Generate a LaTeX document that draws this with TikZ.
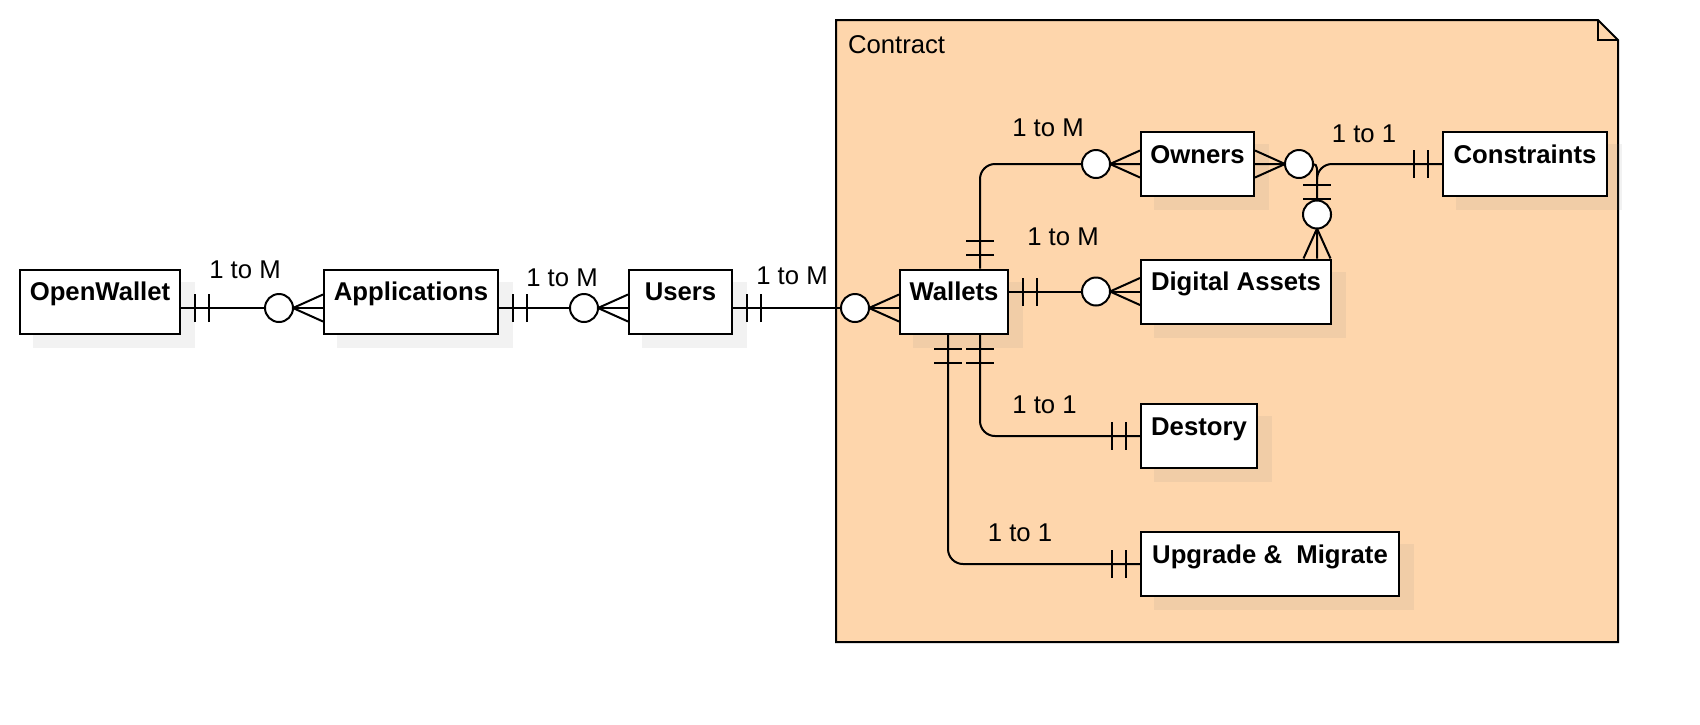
\documentclass[tikz,border=0pt]{standalone}
\usepackage{fontspec}
\setmainfont{Liberation Sans}
\usetikzlibrary{calc,backgrounds}

\tikzset{
  zmany/.pic={
    \draw (0,-13.5) -- (30,0) -- (0,13.5);
    \draw[fill=white] (44,0) circle [radius=7pt];
  },
  oneonly/.pic={
    \draw (14,-14) -- (14,14);
    \draw (28,-14) -- (28,14);
  }
}

\begin{document}
\begin{tikzpicture}[x=0.5pt,y=0.5pt,yscale=-1,xscale=1,line width=1pt,
    entity/.style={draw,fill=white,font=\bfseries\fontsize{12.85}{15}\selectfont,inner sep=0pt,minimum height=32pt,text height=15.5pt,text depth=16.5pt},
    rel/.style={font=\fontsize{12.85}{15}\selectfont,inner sep=0pt},
    boxshadow/.style={fill=gray,opacity=0.1},
    contract/.style={draw,line width=1pt,fill={rgb,255:red,254;green,214;blue,172}}]
        \useasboundingbox (0,0) rectangle (1700,724);

        % Contract frame
        \begin{scope}[on background layer]
        \draw[contract] (836,20) -- (1598,20) -- (1618,40) -- (1618,642) -- (836,642) -- cycle;
        \draw[line width=1pt] (1598,20) -- (1598,40) -- (1618,40);
        \end{scope}
        \node[rel,anchor=west] (contract) at (847,45) {Contract};

        % Text Node
        \node[entity,minimum width=80pt] (owallet) at (100,301.5) {OpenWallet};
        \node[entity,minimum width=87pt] (apps) at (411,301.5) {Applications};
        \node[entity,minimum width=51.5pt] (users) at (680.5,301.5) {Users};
        \node[entity,minimum width=54pt] (wallets) at (954,301.5) {Wallets};
        \node[entity,minimum width=56.5pt,anchor=west] (owners) at (1140,164) {Owners};
        \node[entity,minimum width=82pt] (constraints) at (1525,164) {Constraints};
        \node[entity,minimum width=95pt,anchor=west] (assets) at (1140,291.5) {Digital Assets};
        \node[entity,minimum width=58pt,anchor=west] (destory) at (1140,436) {Destory};
        \node[entity,minimum width=129pt,anchor=west] (upgrade) at (1140,564) {Upgrade \&\ \ Migrate};

        % shadows
        \begin{scope}[on background layer]
        \foreach \n in {owallet,apps,users,wallets,owners,constraints,assets,destory,upgrade}
            \fill[boxshadow] ($(\n.north west)+(14,13)$) rectangle ($(\n.south east)+(14,13)$);
        \end{scope}

        % Text Node
        \node[rel] (lowapp) at (245,270) {1 to M};
        \node[rel] (lappuser) at (562,277.5) {1 to M};
        \node[rel] (luserwal) at (792,275.5) {1 to M};
        \node[rel] (lwalown) at (1048,128) {1 to M};
        \node[rel] (lwalast) at (1063,237) {1 to M};
        \node[rel] (lcons) at (1364,133.5) {1 to 1};
        \node[rel] (lwaldes) at (1044.5,405) {1 to 1};
        \node[rel] (lwalupg) at (1020,533) {1 to 1};

        % Connection
        \draw ($(owallet.east)+(0,6.5)$) -- ($(apps.west)+(0,6.5)$);
        \pic at ($(owallet.east)+(0,6.5)$) {oneonly};
        \pic[rotate=180] at ($(apps.west)+(0,6.5)$) {zmany};

        % Connection
        \draw ($(apps.east)+(0,6.5)$) -- ($(users.west)+(0,6.5)$);
        \pic at ($(apps.east)+(0,6.5)$) {oneonly};
        \pic[rotate=180] at ($(users.west)+(0,6.5)$) {zmany};

        % Connection
        \draw ($(users.east)+(0,6.5)$) -- ($(wallets.west)+(0,6.5)$);
        \pic at ($(users.east)+(0,6.5)$) {oneonly};
        \pic[rotate=180] at ($(wallets.west)+(0,6.5)$) {zmany};

        % Connection
        \draw[rounded corners=7.5pt] ($(wallets.north)+(26,0)$) |- (owners.west);
        \pic[rotate=90] at ($(wallets.north)+(26,0)$) {oneonly};
        \pic[rotate=180] at (owners.west) {zmany};

        % Connection
        \draw (wallets.east |- assets.west) -- (assets.west);
        \pic at (wallets.east |- assets.west) {oneonly};
        \pic[rotate=180] at (assets.west) {zmany};

        % Connection
        \draw[rounded corners=7.5pt] ($(wallets.south)+(26,0)$) |- (destory.west);
        \pic[rotate=-90] at ($(wallets.south)+(26,0)$) {oneonly};
        \pic[rotate=180] at (destory.west) {oneonly};

        % Connection
        \draw[rounded corners=7.5pt] ($(wallets.south)+(-6,0)$) |- (upgrade.west);
        \pic[rotate=-90] at ($(wallets.south)+(-6,0)$) {oneonly};
        \pic[rotate=180] at (upgrade.west) {oneonly};

        % Connection
        \coordinate (datop) at ($(assets.north)+(81,0)$);
        \coordinate (knot) at (datop |- constraints.west);
        \draw[rounded corners=7.5pt] (datop) |- (constraints.west);
        \draw (owners.east) -- ($(knot)+(-4,0)$) .. controls ($(knot)+(1,0)$) and ($(knot)+(0,6)$) .. ($(knot)+(0,15)$);
        \pic at (owners.east) {zmany};
        \pic[rotate=90] at (datop) {zmany};
        \pic[rotate=-90] at ($(knot)+(0,7)$) {oneonly};
        \pic[rotate=180] at (constraints.west) {oneonly};

\end{tikzpicture}
\end{document}
